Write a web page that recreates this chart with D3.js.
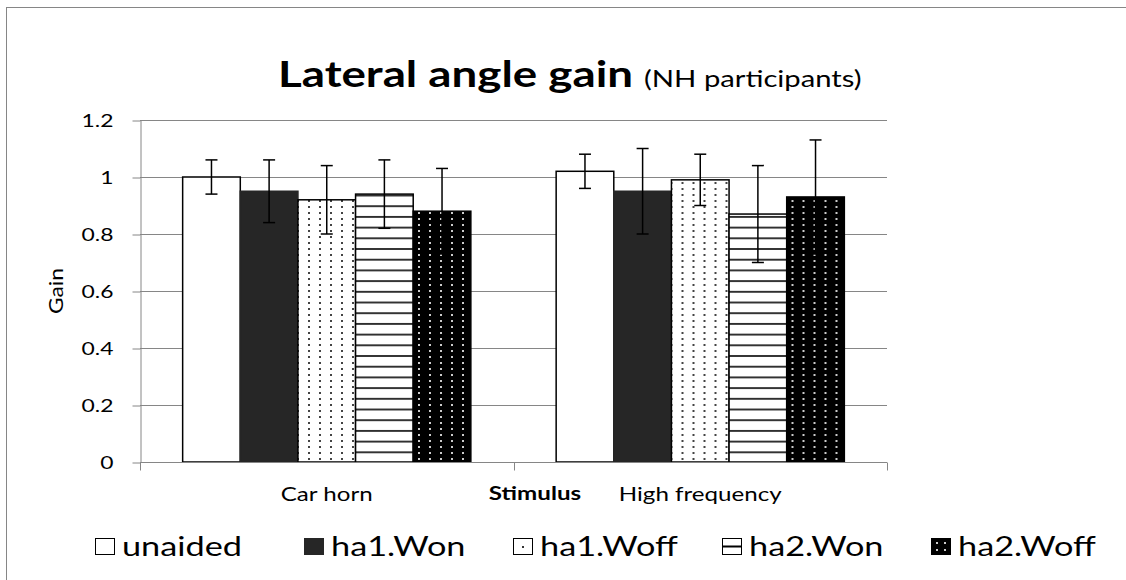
<!DOCTYPE html>
<html>
<head>
<meta charset="utf-8">
<script src="https://cdn.jsdelivr.net/npm/d3@7"></script>
<style>
  body { margin: 0; background: #fff; }
  text { font-family: Lato, "Open Sans", sans-serif; fill: #000; }
</style>
</head>
<body>
<div id="chart"></div>
<script>
// data
var categories = ['Car horn', 'High frequency']
var series = ['unaided', 'ha1.Won', 'ha1.Woff', 'ha2.Won', 'ha2.Woff']
var gain_values = [
    [1.00, 0.95, 0.92, 0.94, 0.88],
    [1.02, 0.95, 0.99, 0.87, 0.93]
]
var gain_errors = [
    [0.06, 0.11, 0.12, 0.12, 0.15],
    [0.06, 0.15, 0.09, 0.17, 0.20]
]
var y_ticks = [0, 0.2, 0.4, 0.6, 0.8, 1, 1.2]

var width = 1126, height = 580
var plot_left = 140, plot_right = 887, plot_top = 120, plot_bottom = 462
var grid_color = '#868686'
var text_stretch = 1.27   // the original's text is wider than Lato

// widen text horizontally to match the original lettering
var stretch = (sel, k) => {
    sel.each(function () {
        var w = this.getComputedTextLength()
        d3.select(this)
            .attr('textLength', w * k)
            .attr('lengthAdjust', 'spacingAndGlyphs')
    })
}

var svg = d3.select('#chart')
    .append('svg')
    .attr('width', width)
    .attr('height', height)

// fills for each series
var defs = svg.append('defs')

var dots_light = defs.append('pattern')
    .attr('id', 'dots-light')
    .attr('patternUnits', 'userSpaceOnUse')
    .attr('width', 11).attr('height', 6)
dots_light.append('rect').attr('width', 11).attr('height', 6).attr('fill', '#fff')
dots_light.append('rect').attr('x', 3).attr('y', 2).attr('width', 2).attr('height', 2).attr('fill', '#444')

var dots_dark = defs.append('pattern')
    .attr('id', 'dots-dark')
    .attr('patternUnits', 'userSpaceOnUse')
    .attr('width', 11).attr('height', 6)
dots_dark.append('rect').attr('width', 11).attr('height', 6).attr('fill', '#000')
dots_dark.append('rect').attr('x', 3).attr('y', 2).attr('width', 2).attr('height', 2).attr('fill', '#ccc')

var hlines = defs.append('pattern')
    .attr('id', 'hlines')
    .attr('patternUnits', 'userSpaceOnUse')
    .attr('width', 8).attr('height', 10.7)
hlines.append('rect').attr('width', 8).attr('height', 10.7).attr('fill', '#fff')
hlines.append('rect').attr('y', 2).attr('width', 8).attr('height', 1.8).attr('fill', '#222')

var series_fill = {
    'unaided': '#fff',
    'ha1.Won': '#262626',
    'ha1.Woff': 'url(#dots-light)',
    'ha2.Won': 'url(#hlines)',
    'ha2.Woff': 'url(#dots-dark)'
}
var series_stroke = {
    'unaided': '#000',
    'ha1.Won': '#262626',
    'ha1.Woff': '#000',
    'ha2.Won': '#000',
    'ha2.Woff': '#000'
}

// outer frame (right and bottom edges fall outside the picture)
svg.append('rect')
    .attr('x', 6.5).attr('y', 7.5)
    .attr('width', 1130).attr('height', 620)
    .attr('fill', 'none')
    .attr('stroke', grid_color)

// title
svg.append('text')
    .attr('x', 278).attr('y', 87)
    .attr('font-size', 36).attr('font-weight', 'bold')
    .text('Lateral angle gain')
    .call(stretch, text_stretch)
svg.append('text')
    .attr('x', 644).attr('y', 87)
    .attr('font-size', 23)
    .text('(NH participants)')
    .call(stretch, text_stretch)

// scales
var x0 = d3.scaleBand().domain(categories).range([plot_left, plot_right]).padding(0)
var x1 = d3.scaleBand().domain(series).range([0, x0.bandwidth()]).paddingInner(0).paddingOuter(0.74)
var y = d3.scaleLinear().domain([0, 1.2]).range([plot_bottom, plot_top])

// gridlines
svg.append('g')
    .selectAll('line')
    .data(y_ticks.slice(1))
    .enter()
    .append('line')
    .attr('x1', plot_left).attr('x2', plot_right)
    .attr('y1', d => Math.round(y(d)) + 0.5)
    .attr('y2', d => Math.round(y(d)) + 0.5)
    .attr('stroke', grid_color)

// y axis
var y_axis = svg.append('g')
    .attr('transform', `translate(${plot_left + 0.5},0.5)`)
    .call(d3.axisLeft(y).tickValues(y_ticks).tickFormat(d3.format('')).tickSize(8).tickSizeOuter(0).tickPadding(19))
y_axis.selectAll('line, path').attr('stroke', grid_color)
y_axis.selectAll('text')
    .attr('font-size', 18)
    .attr('font-family', 'Lato, sans-serif')
    .attr('fill', '#000')
    .call(stretch, text_stretch)

svg.append('text')
    .attr('transform', `translate(63,${(plot_top + plot_bottom) / 2}) rotate(-90)`)
    .attr('text-anchor', 'middle')
    .attr('font-size', 19)
    .text('Gain')
    .call(stretch, 1.2)

// bars
var groups = svg.append('g')
    .selectAll('g')
    .data(categories)
    .enter()
    .append('g')
    .attr('transform', d => `translate(${x0(d)},0)`)

var bar_data = (c, ci) => series.map((s, si) => ({ s: s, v: gain_values[ci][si], e: gain_errors[ci][si] }))

groups.selectAll('rect')
    .data(bar_data)
    .enter()
    .append('rect')
    .attr('x', d => x1(d.s))
    .attr('y', d => y(d.v))
    .attr('width', x1.bandwidth())
    .attr('height', d => y(0) - y(d.v))
    .attr('fill', d => series_fill[d.s])
    .attr('stroke', d => series_stroke[d.s])
    .attr('stroke-width', 1.5)

// error bars
var err = groups.selectAll('g.err')
    .data(bar_data)
    .enter()
    .append('g')
    .attr('class', 'err')
    .attr('stroke', '#000')
    .attr('stroke-width', 1.5)
err.append('line')
    .attr('x1', d => x1(d.s) + x1.bandwidth() / 2)
    .attr('x2', d => x1(d.s) + x1.bandwidth() / 2)
    .attr('y1', d => y(d.v + d.e))
    .attr('y2', d => y(d.v - d.e))
err.selectAll('line.cap')
    .data(d => [d.v + d.e, d.v - d.e].map(v => ({ s: d.s, v: v })))
    .enter()
    .append('line')
    .attr('class', 'cap')
    .attr('x1', d => x1(d.s) + x1.bandwidth() / 2 - 6)
    .attr('x2', d => x1(d.s) + x1.bandwidth() / 2 + 6)
    .attr('y1', d => y(d.v))
    .attr('y2', d => y(d.v))

// x axis
var x_axis = svg.append('g')
    .attr('transform', `translate(0,${plot_bottom + 0.5})`)
x_axis.append('line')
    .attr('x1', plot_left).attr('x2', plot_right)
    .attr('stroke', grid_color)
x_axis.selectAll('line.tick')
    .data([plot_left, plot_left + x0.bandwidth(), plot_right])
    .enter()
    .append('line')
    .attr('class', 'tick')
    .attr('x1', d => Math.round(d) + 0.5).attr('x2', d => Math.round(d) + 0.5)
    .attr('y1', 0).attr('y2', 8)
    .attr('stroke', grid_color)

x_axis.selectAll('text')
    .data(categories)
    .enter()
    .append('text')
    .attr('x', d => x0(d) + x0.bandwidth() / 2)
    .attr('y', 38)
    .attr('text-anchor', 'middle')
    .attr('font-size', 19)
    .text(d => d)
    .call(stretch, text_stretch)

svg.append('text')
    .attr('x', 535).attr('y', plot_bottom + 38)
    .attr('text-anchor', 'middle')
    .attr('font-size', 19)
    .attr('font-weight', 'bold')
    .text('Stimulus')
    .call(stretch, text_stretch)

// legend
var legend = svg.append('g')
    .selectAll('g')
    .data(series)
    .enter()
    .append('g')
    .attr('transform', (d, i) => `translate(${95 + i * 209},${546})`)

legend.append('rect')
    .attr('x', 0.5).attr('y', -7.5)
    .attr('width', 19).attr('height', 16)
    .attr('fill', d => d == 'ha1.Won' ? '#262626' : d == 'ha2.Woff' ? '#000' : '#fff')
    .attr('stroke', d => series_stroke[d])
    .attr('stroke-width', 1)

// small marks inside the legend keys
legend.filter(d => d == 'ha1.Woff').append('rect')
    .attr('x', 9).attr('y', 0).attr('width', 2).attr('height', 2).attr('fill', '#333')
legend.filter(d => d == 'ha2.Won').append('rect')
    .attr('x', 1).attr('y', -0.5).attr('width', 18).attr('height', 2).attr('fill', '#000')
legend.filter(d => d == 'ha2.Woff').selectAll('rect.dot')
    .data([[5, -4], [13, -4], [5, 3], [13, 3]])
    .enter()
    .append('rect')
    .attr('class', 'dot')
    .attr('x', d => d[0]).attr('y', d => d[1]).attr('width', 2).attr('height', 2).attr('fill', '#ccc')

legend.append('text')
    .attr('x', 27).attr('y', 10)
    .attr('font-size', 27)
    .text(d => d)
    .call(stretch, text_stretch)
</script>
</body>
</html>
